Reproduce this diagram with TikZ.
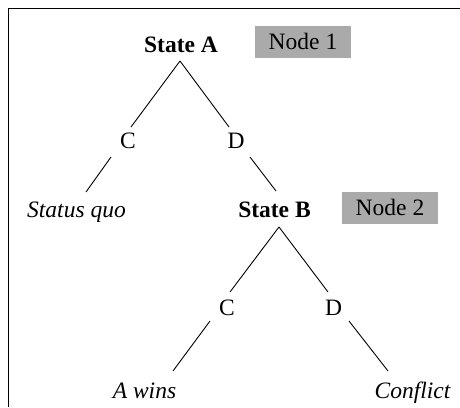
\documentclass[tikz,border=0pt]{standalone}
\usepackage{fontspec}
\setmainfont{Liberation Serif}
\definecolor{boxgray}{RGB}{170,170,170}
\begin{document}
\begin{tikzpicture}[x=1pt,y=-1pt,
  lbl/.style={inner sep=0pt,anchor=base,font=\fontsize{23.5}{28}\selectfont},
  state/.style={lbl,font=\fontsize{23.5}{28}\selectfont\bfseries},
  outcome/.style={lbl,font=\fontsize{23.5}{28}\selectfont\itshape},
  tag/.style={fill=boxgray,inner sep=0pt,minimum width=96pt,minimum height=32pt,
    text height=15.6pt,text depth=0pt,font=\fontsize{23.5}{28}\selectfont},
  edge/.style={line width=0.9pt},
  frame/.style={line width=1.2pt}]
\useasboundingbox (0,0) rectangle (460,407);
\coordinate (fl) at (8.5,407);
\coordinate (fc) at (8.5,8.5);
\coordinate (fr) at (460,8.5);
\draw[frame] (fl) -- (fc) -- (fr);

\node[state] (A) at (181,52) {State A};
\node[tag] (n1) at (303,42) {Node 1};
\node[lbl] (c1) at (128,148) {C};
\node[lbl] (d1) at (236,148) {D};
\node[outcome] (sq) at (76.5,217) {Status quo};
\node[state] (B) at (274.5,217) {State B};
\node[tag] (n2) at (390,207.5) {Node 2};
\node[lbl] (c2) at (227,315) {C};
\node[lbl] (d2) at (333.5,315) {D};
\node[outcome] (aw) at (144.5,398) {A wins};
\node[outcome] (cf) at (412.5,398) {Conflict};

\draw[edge] ([shift={(-1,9)}]A.base) -- ([shift={(3,-21)}]c1.base);
\draw[edge] ([shift={(-1,9)}]A.base) -- ([shift={(-7,-21)}]d1.base);
\draw[edge] ([shift={(-17,9)}]c1.base) -- ([shift={(9.5,-25)}]sq.base);
\draw[edge] ([shift={(14,9)}]d1.base) -- ([shift={(1.5,-26)}]B.base);
\draw[edge] ([shift={(4.5,10)}]B.base) -- ([shift={(3,-23)}]c2.base);
\draw[edge] ([shift={(4.5,10)}]B.base) -- ([shift={(-5.5,-23)}]d2.base);
\draw[edge] ([shift={(-17,6)}]c2.base) -- ([shift={(28.5,-27)}]aw.base);
\draw[edge] ([shift={(15.5,6)}]d2.base) -- ([shift={(-24.5,-27)}]cf.base);
\end{tikzpicture}
\end{document}
